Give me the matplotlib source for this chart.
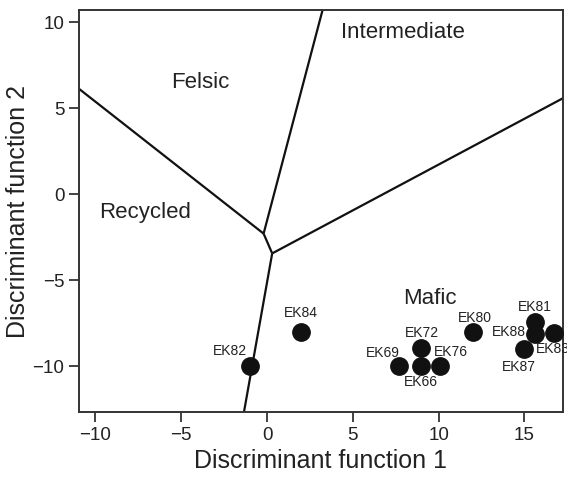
import matplotlib
matplotlib.use("Agg")
import matplotlib.pyplot as plt

plt.rcParams['font.family'] = ['Liberation Sans', 'DejaVu Sans']

# Sample points (Discriminant function 1, Discriminant function 2)
samples = ["EK82", "EK84", "EK69", "EK66", "EK72", "EK76", "EK80", "EK81", "EK88", "EK83", "EK87"]
df1 = [-1.0, 2.0, 7.7, 9.0, 9.0, 10.1, 12.0, 15.6, 15.6, 16.7, 15.0]
df2 = [-10.0, -8.0, -10.0, -10.0, -8.95, -10.0, -8.0, -7.45, -8.15, -8.05, -9.0]

# Field boundary lines (junction points and edge endpoints)
junction_a = (-0.2, -2.3)
junction_b = (0.3, -3.45)
bound_felsic_recycled = ([-11.0, junction_a[0]], [6.15, junction_a[1]])
bound_felsic_intermediate = ([junction_a[0], 3.25], [junction_a[1], 10.75])
bound_ab = ([junction_a[0], junction_b[0]], [junction_a[1], junction_b[1]])
bound_intermediate_mafic = ([junction_b[0], 17.3], [junction_b[1], 5.6])
bound_recycled_mafic = ([junction_b[0], -1.35], [junction_b[1], -12.7])

regions = ["Felsic", "Recycled", "Intermediate", "Mafic"]
region_x = [-3.9, -7.1, 7.9, 9.5]
region_y = [6.5, -1.1, 9.4, -6.1]

# label offsets in pixels (dx, dy), alignment
label_style = {
    "EK82": (-3.3, 15.3, "right"),
    "EK84": (0, 19, "center"),
    "EK69": (1, 13, "right"),
    "EK66": (-1, -15.7, "center"),
    "EK72": (0, 14.7, "center"),
    "EK76": (11, 14, "center"),
    "EK80": (2, 14, "center"),
    "EK81": (0, 15, "center"),
    "EK88": (-8.6, 2, "right"),
    "EK83": (-17.6, -16.7, "left"),
    "EK87": (-5.3, -17.7, "center"),
}

fig = plt.figure(figsize=(5.67, 4.78), dpi=100)
ax = fig.add_axes([79/567, 1-412/478, (563-79)/567, (412-10)/478])

for xs, ys in [bound_felsic_recycled, bound_felsic_intermediate, bound_ab,
               bound_intermediate_mafic, bound_recycled_mafic]:
    ax.plot(xs, ys, color="#111111", lw=1.6, solid_capstyle="butt", zorder=2)

ax.plot(df1, df2, "o", color="#111111", ms=12.5, zorder=3, clip_on=False)

for name, x, y in zip(samples, df1, df2):
    dx, dy, ha = label_style[name]
    ax.annotate(name, (x, y), xytext=(dx*0.72, dy*0.72), textcoords="offset points",
                ha=ha, va="center", fontsize=10, color="#222222", annotation_clip=False)

for name, x, y in zip(regions, region_x, region_y):
    ax.text(x, y, name, ha="center", va="center", fontsize=16, color="#222222")

ax.set_xlim(-10.96, 17.25)
ax.set_ylim(-12.67, 10.7)
ax.set_xticks([-10, -5, 0, 5, 10, 15])
ax.set_yticks([-10, -5, 0, 5, 10])
ax.set_xticklabels(["\u221210", "\u22125", "0", "5", "10", "15"])
ax.set_yticklabels(["\u221210", "\u22125", "0", "5", "10"])
ax.tick_params(direction="out", length=7, width=1.2, labelsize=13.5, colors="#222222", pad=3.5)
for s in ax.spines.values():
    s.set_linewidth(1.4)
    s.set_color("#333333")
ax.set_xlabel("Discriminant function 1", fontsize=18, color="#222222", labelpad=4)
ax.set_ylabel("Discriminant function 2", fontsize=18, color="#222222", labelpad=2)

fig.savefig("out.png", dpi=100)
